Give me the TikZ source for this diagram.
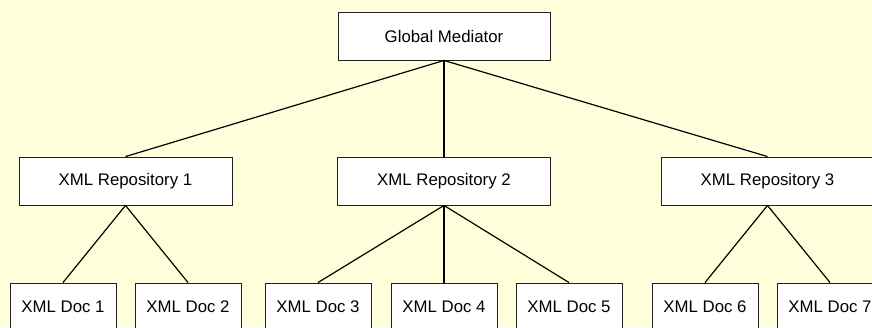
\documentclass[tikz,border=0pt]{standalone}
\usepackage{fontspec}
\setmainfont{Liberation Sans}
\definecolor{bgyellow}{HTML}{FFFFDC}
\definecolor{boxline}{HTML}{202020}
\begin{document}
\begin{tikzpicture}[x=1pt,y=-1pt,
  box/.style={draw=boxline,line width=0.9pt,fill=white,minimum height=48pt,inner sep=0pt,
    font=\fontsize{16.8}{20}\selectfont},
  repo/.style={box,minimum width=213pt},
  doc/.style={box,minimum width=106pt},
  link/.style={line width=1.2pt,black}]
\fill[bgyellow] (0,0) rectangle (872,327);
\useasboundingbox (0,0) rectangle (872,327);
\clip (0,0) rectangle (872,327);
\node[box,minimum width=212pt] (gm) at (444,36) {Global Mediator};
\node[repo] (r1) at (125.5,181) {XML Repository 1};
\node[repo] (r2) at (444,181) {XML Repository 2};
\node[repo] (r3) at (767.5,181) {XML Repository 3};
\node[doc] (d1) at (63,307) {XML Doc 1};
\node[doc] (d2) at (188,307) {XML Doc 2};
\node[doc] (d3) at (318,307) {XML Doc 3};
\node[doc] (d4) at (444,307) {XML Doc 4};
\node[doc] (d5) at (569,307) {XML Doc 5};
\node[doc] (d6) at (705,307) {XML Doc 6};
\node[doc] (d7) at (830,307) {XML Doc 7};
\draw[link] (gm.south) -- (r1.north);
\draw[link] (gm.south) -- (r2.north);
\draw[link] (gm.south) -- (r3.north);
\draw[link] (r1.south) -- (d1.north);
\draw[link] (r1.south) -- (d2.north);
\draw[link] (r2.south) -- (d3.north);
\draw[link] (r2.south) -- (d4.north);
\draw[link] (r2.south) -- (d5.north);
\draw[link] (r3.south) -- (d6.north);
\draw[link] (r3.south) -- (d7.north);
\end{tikzpicture}
\end{document}
